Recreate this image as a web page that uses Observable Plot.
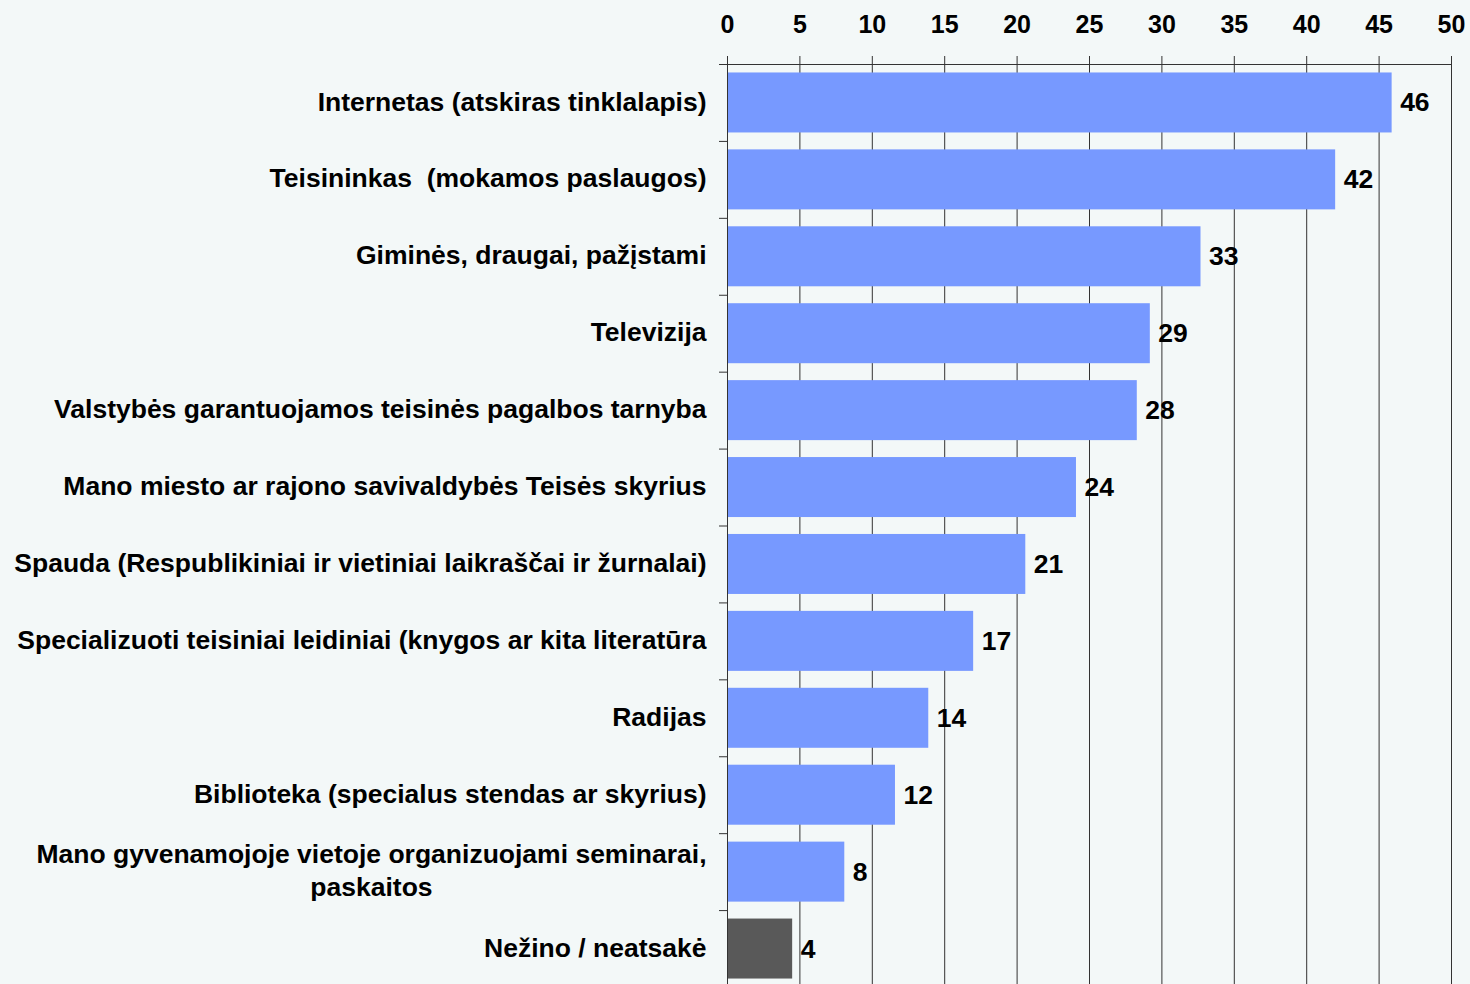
<!DOCTYPE html>
<html>
<head>
<meta charset="utf-8">
<script src="https://cdn.jsdelivr.net/npm/d3@7"></script>
<script src="https://cdn.jsdelivr.net/npm/@observablehq/plot@0.6"></script>
<style>
  html, body { margin: 0; padding: 0; background: #F3F8F8; }
  svg text { white-space: pre; }
</style>
</head>
<body>
<div id="chart"></div>
<script>
const categories = [
  "Internetas (atskiras tinklalapis)",
  "Teisininkas  (mokamos paslaugos)",
  "Giminės, draugai, pažįstami",
  "Televizija",
  "Valstybės garantuojamos teisinės pagalbos tarnyba",
  "Mano miesto ar rajono savivaldybės Teisės skyrius",
  "Spauda (Respublikiniai ir vietiniai laikraščai ir žurnalai)",
  "Specializuoti teisiniai leidiniai (knygos ar kita literatūra",
  "Radijas",
  "Biblioteka (specialus stendas ar skyrius)",
  "Mano gyvenamojoje vietoje organizuojami seminarai,\npaskaitos",
  "Nežino / neatsakė"
];
const values = [45.9, 42.0, 32.7, 29.2, 28.3, 24.1, 20.6, 17.0, 13.9, 11.6, 8.1, 4.5];
const valueLabels = ["46", "42", "33", "29", "28", "24", "21", "17", "14", "12", "8", "4"];
const xTicks = [0, 5, 10, 15, 20, 25, 30, 35, 40, 45, 50];
const otherCategory = "Nežino / neatsakė";

const data = categories.map((c, i) => ({
  category: c, value: values[i], label: valueLabels[i], other: c === otherCategory
}));

const H = 990, MT = 64, MB = 3;
const step = (H - MT - MB) / categories.length;
const font = "'Liberation Sans', Arial, sans-serif";

const chart = Plot.plot({
  width: 1470,
  height: H,
  marginTop: MT,
  marginBottom: MB,
  marginLeft: 727,
  marginRight: 19,
  style: {background: "#F3F8F8", fontFamily: font, fontWeight: "bold", fontSize: "26.5px", color: "#000", overflow: "visible"},
  x: {domain: [0, 50]},
  y: {domain: categories, paddingInner: 0.22, paddingOuter: 0.11, round: false},
  marks: [
    Plot.gridX(xTicks, {stroke: "#333", strokeOpacity: 1, strokeWidth: 1}),
    Plot.barX(data, {y: "category", x: "value", fill: d => d.other ? "#595959" : "#7799FF"}),
    Plot.ruleX([0], {stroke: "#333"}),
    Plot.frame({anchor: "top", stroke: "#333"}),
    Plot.axisX(xTicks, {anchor: "top", tickSize: 9, tickPadding: 23, fontSize: 25, fontWeight: "bold", stroke: "#333", label: null}),
    Plot.axisY({anchor: "left", tickSize: 8, fill: "none", stroke: "#333", dy: -step / 2, label: null}),
    Plot.axisY({anchor: "left", tickSize: 0, tickPadding: 21, dy: -3, fontSize: 26.5, fontWeight: "bold", lineHeight: 1.25, label: null}),
    Plot.text(data, {y: "category", x: "value", text: "label", dx: 8, textAnchor: "start", fontSize: 26.5, fontWeight: "bold", fill: "#000"})
  ]
});

document.getElementById("chart").append(chart);

// center wrapped lines of the multi-line category label (Excel-like)
chart.querySelectorAll("text").forEach(t => {
  const spans = t.querySelectorAll("tspan");
  if (spans.length > 1) {
    const w1 = spans[0].getComputedTextLength();
    t.setAttribute("text-anchor", "middle");
    spans.forEach(s => s.setAttribute("x", -w1 / 2));
  }
});
</script>
</body>
</html>
